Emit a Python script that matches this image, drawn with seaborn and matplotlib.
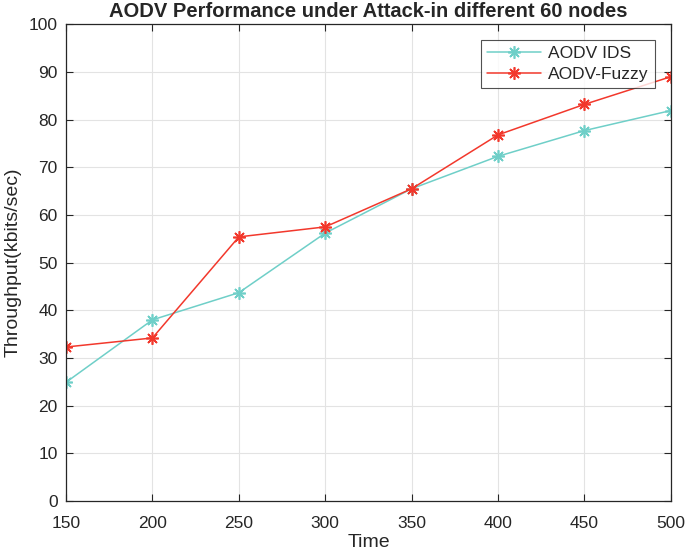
import pandas as pd
import numpy as np
import matplotlib
matplotlib.use('Agg')
import matplotlib.pyplot as plt
import seaborn as sns

time = [150, 200, 250, 300, 350, 400, 450, 500]
aodv_ids = [24.9, 38.0, 43.7, 56.2, 65.5, 72.3, 77.7, 81.9]
aodv_fuzzy = [32.3, 34.2, 55.4, 57.5, 65.5, 76.8, 83.2, 89.0]
series_names = ['AODV IDS', 'AODV-Fuzzy']

df = pd.DataFrame({
    'Time': time * 2,
    'Throughput': aodv_ids + aodv_fuzzy,
    'Series': [series_names[0]] * len(time) + [series_names[1]] * len(time),
})

sns.set_style('whitegrid')
plt.rcParams['font.family'] = ['Liberation Sans', 'DejaVu Sans']

fig = plt.figure(figsize=(6.85, 5.55), dpi=100)
ax = fig.add_axes([0.0964, 0.0973, 0.883, 0.859])

palette = {'AODV IDS': '#6fcfc8', 'AODV-Fuzzy': '#f2382c'}
sns.lineplot(data=df, x='Time', y='Throughput', hue='Series', palette=palette,
             marker=(8, 2, 0), markersize=9, linewidth=1.1, ax=ax)
# asterisk markers drawn in the line colour
for ln in ax.get_lines():
    ln.set_markeredgecolor(ln.get_color())
    ln.set_markeredgewidth(1.2)

ax.set_xlim(150, 500)
ax.set_ylim(0, 100)
ax.set_xticks(time)
ax.set_yticks(np.arange(0, 101, 10))
ax.tick_params(labelsize=12.5, direction='in', length=5, color='#262626',
               top=True, right=True, bottom=True, left=True)
ax.tick_params(axis='x', pad=11)
ax.tick_params(axis='y', pad=6)
ax.grid(True, color='#e3e3e3', linewidth=0.8)
for s in ax.spines.values():
    s.set_color('#262626')
    s.set_linewidth(0.9)

ax.set_xlabel('Time', fontsize=14, labelpad=2)
ax.set_ylabel('Throughput(kbits/sec)', fontsize=14, labelpad=5)
ax.set_title('AODV Performance under Attack-in different 60 nodes',
             fontsize=14.5, fontweight='bold', pad=5)

leg = ax.legend(loc='upper right', bbox_to_anchor=(0.973, 0.968), fontsize=12.5,
                frameon=True, fancybox=False, borderaxespad=0, handlelength=3.1,
                handletextpad=0.4, borderpad=0.35, labelspacing=0.35)
leg.get_frame().set_edgecolor('#262626')
leg.get_frame().set_linewidth(0.8)
for h in leg.legend_handles:
    h.set_markeredgecolor(h.get_color())
    h.set_markeredgewidth(1.2)

fig.savefig('out.png', dpi=100)
